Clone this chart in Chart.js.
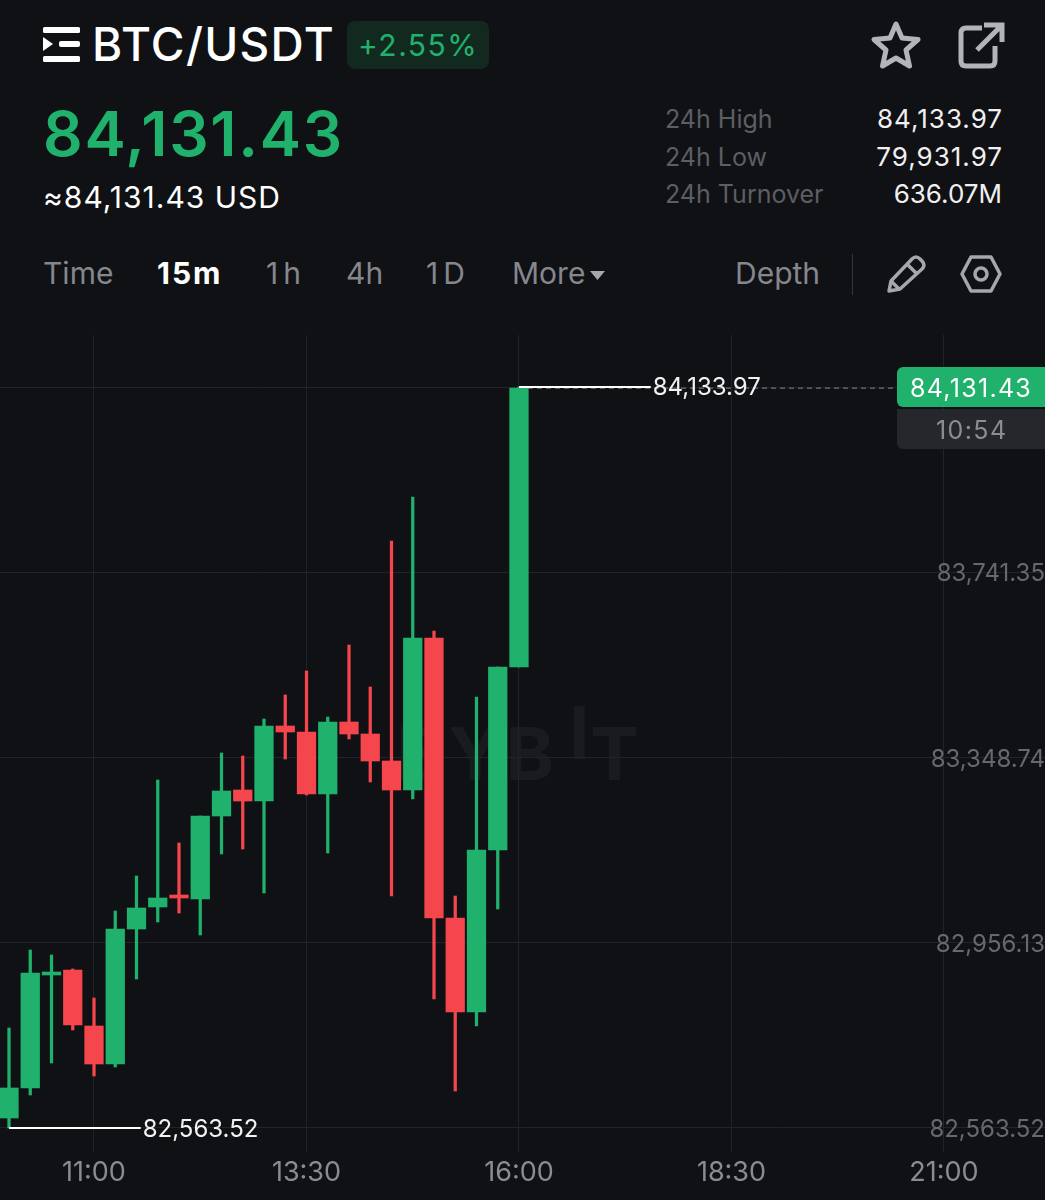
<!DOCTYPE html>
<html><head><meta charset="utf-8">
<script src="https://cdn.jsdelivr.net/npm/chart.js@4/dist/chart.umd.min.js"></script>
<style>
html,body{margin:0;padding:0;background:#101115;width:1045px;height:1200px;overflow:hidden;font-family:Inter,Roboto,sans-serif;}
.t{position:absolute;white-space:nowrap;line-height:1;}
#wrap{position:absolute;left:0;top:335px;width:1045px;height:865px;}
svg{position:absolute;overflow:visible;}
</style></head><body>
<div class="t" style="left:92px;top:21px;font-size:46px;font-weight:500;color:#fff;letter-spacing:1.3px">BTC/USDT</div>
<svg style="left:42px;top:26px" width="38" height="36" viewBox="0 0 38 36"><rect x="1" y="1" width="37" height="6" rx="1.5" fill="#fff"/><rect x="1" y="30" width="37" height="6" rx="1.5" fill="#fff"/><rect x="17" y="15" width="21" height="6" rx="2" fill="#fff"/><path d="M1 11 L11 18 L1 25 Z" fill="#fff"/></svg>
<div style="position:absolute;left:347px;top:21px;width:142px;height:48px;border-radius:8px;background:#12291f"></div>
<div class="t" style="left:358px;top:30px;font-size:30px;color:#20b26c;letter-spacing:1.5px">+2.55%</div>
<div class="t" style="left:43px;top:103px;font-size:62px;font-weight:600;color:#20b26c;letter-spacing:1.700px">84,131.43</div>
<div class="t" style="left:43px;top:182px;font-size:30px;color:#fff;letter-spacing:1px">≈84,131.43 USD</div>
<div class="t" style="left:665px;top:107px;font-size:25px;color:#5c5e63">24h High</div>
<div class="t" style="left:665px;top:145px;font-size:25px;color:#5c5e63">24h Low</div>
<div class="t" style="left:665px;top:182px;font-size:25px;color:#5c5e63">24h Turnover</div>
<div class="t" style="right:42px;top:106px;font-size:26px;color:#f0f0f0;letter-spacing:1px">84,133.97</div>
<div class="t" style="right:42px;top:144px;font-size:26px;color:#f0f0f0;letter-spacing:1px">79,931.97</div>
<div class="t" style="right:43px;top:181px;font-size:26px;color:#f0f0f0">636.07M</div>
<div class="t" style="left:43px;top:258px;font-size:30px;color:#85878c">Time</div>
<div class="t" style="left:157px;top:258px;font-size:30px;font-weight:700;color:#fff;letter-spacing:2px">15m</div>
<div class="t" style="left:266px;top:258px;font-size:30px;color:#85878c;letter-spacing:5px">1h</div>
<div class="t" style="left:346px;top:258px;font-size:30px;color:#85878c">4h</div>
<div class="t" style="left:426px;top:258px;font-size:30px;color:#85878c;letter-spacing:5px">1D</div>
<div class="t" style="left:512px;top:258px;font-size:30px;color:#85878c">More</div>
<svg style="left:590px;top:270px" width="15" height="11"><path d="M0 1 L15 1 L7.5 10 Z" fill="#a5a7ab"/></svg>
<div class="t" style="left:735px;top:258px;font-size:30px;color:#85878c">Depth</div>
<div style="position:absolute;left:852px;top:254px;width:1px;height:41px;background:#33353a"></div>
<svg style="left:870px;top:20px" width="52" height="50" viewBox="0 0 52 50"><path d="M26 4 L32 18 L48 19.5 L36 30 L39.5 46 L26 38 L12.500 46 L16 30 L4 19.5 L20 18 Z" fill="none" stroke="#b2b4b8" stroke-width="5" stroke-linejoin="round"/></svg>
<svg style="left:956px;top:22px" width="50" height="48" viewBox="0 0 50 48"><path d="M26 6 H10 Q5 6 5 11 V39 Q5 44 10 44 H34 Q39 44 39 39 V24" fill="none" stroke="#b2b4b8" stroke-width="5"/><path d="M21 28 L44 5 M28 3 H46 V20" fill="none" stroke="#b2b4b8" stroke-width="5"/></svg>
<svg style="left:885px;top:254px" width="42" height="40" viewBox="0 0 42 40"><path d="M4 37 L6 27 L27 5 Q31 1 35 5 L37 7 Q41 11 37 15 L15 35 Z M22 10 L32 20 M6 27 L14 35" fill="none" stroke="#a5a7ab" stroke-width="3.500" stroke-linejoin="round"/></svg>
<svg style="left:960px;top:255px" width="42" height="38" viewBox="0 0 42 38"><path d="M2 19 L11 2 H31 L40 19 L31 36 H11 Z" fill="none" stroke="#a5a7ab" stroke-width="3.500" stroke-linejoin="round"/><circle cx="21" cy="19" r="6" fill="none" stroke="#a5a7ab" stroke-width="3.500"/></svg>
<div class="t" style="left:396px;top:717px;font-size:73px;font-weight:700;color:#1a1b1f;letter-spacing:4px">BYB</div>
<div class="t" style="left:569px;top:696px;font-size:73px;font-weight:700;color:#1a1b1f">I</div>
<div class="t" style="left:590px;top:717px;font-size:73px;font-weight:700;color:#1a1b1f">T</div>
<div id="wrap"><canvas id="c"></canvas></div>
<div style="position:absolute;left:897px;top:367px;width:148px;height:40px;background:#20b26c;border-radius:6px 0 0 6px"></div>
<div style="position:absolute;left:897px;top:409px;width:148px;height:40px;background:#25272c;border-radius:0 0 0 6px"></div>
<div class="t" style="left:910px;top:376px;font-size:25px;color:#fff;letter-spacing:1.3px">84,131.43</div>
<div class="t" style="left:936px;top:418px;font-size:25px;color:#8b8d92;letter-spacing:1.4px">10:54</div>
<script>
const categories=["10:00","10:15","10:30","10:45","11:00","11:15","11:30","11:45","12:00","12:15","12:30","12:45","13:00","13:15","13:30","13:45","14:00","14:15","14:30","14:45","15:00","15:15","15:30","15:45","16:00"];
const open =[82584.71,82648.29,82887.78,82898.38,82779.70,82699.16,82985.27,83031.90,83057.33,83048.86,83224.76,83279.87,83256.55,83415.51,83402.79,83271.39,83423.98,83398.55,83341.33,83279.87,83602.01,83008.59,82809.37,83152.70,83540.55];
const close=[82648.29,82892.02,82892.02,82781.81,82699.16,82985.27,83029.78,83050.98,83050.98,83224.76,83277.75,83256.55,83415.51,83402.79,83271.39,83423.98,83398.55,83341.33,83279.87,83602.01,83008.59,82809.37,83152.70,83540.55,84131.43];
const high =[82775.46,82940.77,82930.17,82900.50,82839.04,83023.42,83097.60,83301.06,83167.54,83224.76,83358.28,83351.93,83430.34,83481.21,83532.07,83434.58,83587.18,83498.16,83807.59,83900.84,83616.85,83055.21,83476.97,83540.55,84133.97];
const low  =[82563.52,82633.46,82701.28,82771.22,82673.73,82692.80,82879.31,83000.11,83019.18,82972.56,83144.23,83154.82,83061.57,83345.57,83269.27,83146.35,83387.95,83296.82,83055.21,83260.79,82836.92,82641.94,82779.70,83027.66,83540.55];
const xTickLabels=["11:00","13:30","16:00","18:30","21:00"];
const yTickValues=[82563.52,82956.13,83348.74,83741.35,84133.97];
const yTickLabels=["82,563.52","82,956.13","83,348.74","83,741.35",""];
const lastPrice=84131.43, dayHigh=84133.97, dayLow=82563.52;
const UP="#20b26c",DOWN="#f4464c";
const mins=s=>{const[a,b]=s.split(":").map(Number);return a*60+b;};
const colors=open.map((o,i)=>close[i]>=o?UP:DOWN);
const leader=93;
const hiX=mins("16:00"),loX=mins("10:00");
const markers={id:"markers",
 beforeDraw(ch){ch.scales.y.getLabelItems(ch.chartArea).forEach(it=>{if(!it.shifted){it.options.translation[1]+=2;it.shifted=true;}});},
 afterDatasetsDraw(ch){
  const{ctx,scales:{x,y}}=ch;ctx.save();ctx.font="24px Inter,Roboto,sans-serif";ctx.fillStyle="#f2f2f2";ctx.textBaseline="middle";ctx.textAlign="left";
  ctx.fillText("84,133.97",x.getPixelForValue(hiX+leader)+2,y.getPixelForValue(dayHigh)+1);
  ctx.fillText("82,563.52",x.getPixelForValue(loX+leader)+2,y.getPixelForValue(dayLow)+2);
  ctx.restore();}};
new Chart(document.getElementById("c"),{
 data:{datasets:[
  {type:"line",data:[{x:hiX,y:lastPrice},{x:1331,y:lastPrice}],borderColor:"#6e7075",borderWidth:1.2,borderDash:[5,4],pointRadius:0,order:5},
  {type:"bar",grouped:false,data:categories.map((c,i)=>({x:mins(c),y:[low[i],high[i]]})),backgroundColor:colors,barThickness:2.6,order:4},
  {type:"bar",grouped:false,data:categories.map((c,i)=>({x:mins(c),y:[open[i],close[i]]})),backgroundColor:colors,barThickness:18.6,minBarLength:3,order:3},
  {type:"line",data:[{x:hiX,y:dayHigh},{x:hiX+leader,y:dayHigh}],borderColor:"#fff",borderWidth:2.2,pointRadius:0,order:2},
  {type:"line",data:[{x:loX,y:dayLow},{x:loX+leader,y:dayLow}],borderColor:"#fff",borderWidth:2.2,pointRadius:0,order:2}
 ]},
 options:{responsive:true,maintainAspectRatio:false,animation:false,layout:{padding:0},
  plugins:{legend:{display:false},tooltip:{enabled:false}},
  scales:{
   x:{type:"linear",min:593.65,max:1331.3,offset:false,
    afterBuildTicks(s){s.ticks=xTickLabels.map(l=>({value:mins(l)}));},
    afterFit(s){s.height=48;s.paddingLeft=0;s.paddingRight=0;},
    ticks:{autoSkip:false,maxRotation:0,padding:5,color:"#8a8c91",font:{size:27,family:"Inter,Roboto,sans-serif"},callback:v=>{const h=Math.floor(v/60),m=v%60;return String(h).padStart(2,"0")+":"+String(m).padStart(2,"0");}},
    grid:{color:"#222328",lineWidth:1,drawTicks:false,offset:false},border:{display:false}},
   y:{position:"right",min:82512.65,max:84244.18,
    afterBuildTicks(s){s.ticks=yTickValues.map(v=>({value:v}));},
    afterFit(s){s.paddingTop=0;s.paddingBottom=0;},
    ticks:{mirror:true,padding:0,color:"#66686d",font:{size:24,family:"Inter,Roboto,sans-serif"},callback:v=>yTickLabels[yTickValues.indexOf(v)]},
    grid:{color:"#222328",lineWidth:1,drawTicks:false},border:{display:false}}
  }},
 plugins:[markers]});
</script>
</body></html>
